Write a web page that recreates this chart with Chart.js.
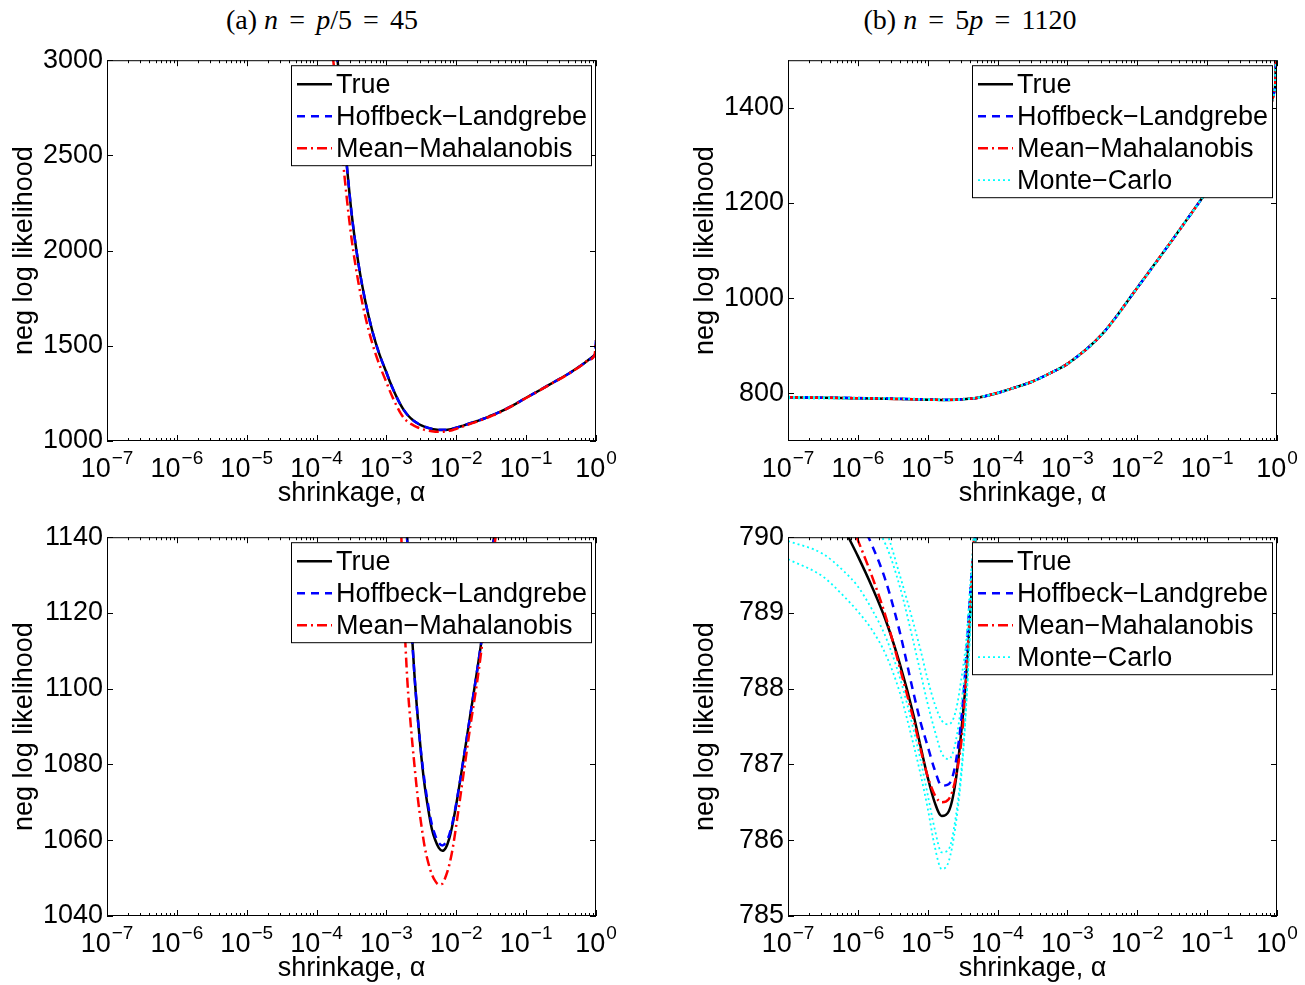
<!DOCTYPE html>
<html>
<head>
<meta charset="utf-8">
<script src="https://cdn.jsdelivr.net/npm/chart.js@4.4.1/dist/chart.umd.min.js"></script>
<style>
  body { margin: 0; background: #fff; width: 1305px; height: 985px; overflow: hidden; position: relative; }
  canvas { position: absolute; }
  .ttl { position: absolute; top: 4px; text-align: center; font: 28px "Liberation Serif", serif; line-height: 32px; color: #000; }
  .ttl .eq { margin: 0 0.4em; }
</style>
</head>
<body>
<div class="ttl" style="left:0;width:644px">(a) <i>n</i><span class="eq">=</span><i>p</i>/5<span class="eq">=</span>45</div>
<div class="ttl" style="left:681px;width:578px">(b) <i>n</i><span class="eq">=</span>5<i>p</i><span class="eq">=</span>1120</div>
<canvas id="c1" width="624" height="470" style="left:0;top:40px"></canvas>
<canvas id="c2" width="624" height="470" style="left:681px;top:40px"></canvas>
<canvas id="c3" width="624" height="468" style="left:0;top:517px"></canvas>
<canvas id="c4" width="624" height="468" style="left:681px;top:517px"></canvas>
<script>
// x values are log10(alpha)
const expA = [-3.8, -3.7, -3.6, -3.5, -3.4, -3.3, -3.2, -3.1, -3.0, -2.95, -2.9, -2.85, -2.8, -2.75, -2.7, -2.65,
  -2.6, -2.55, -2.5, -2.45, -2.4, -2.35, -2.3, -2.25, -2.2, -2.15, -2.1, -2.05, -2.0, -1.9, -1.8, -1.7, -1.6, -1.5,
  -1.4, -1.2, -1.0, -0.8, -0.6, -0.4, -0.2, -0.1, -0.02, 0];
const trueA = [3250, 3000, 2580, 2200, 1930, 1730, 1575, 1455, 1360, 1311, 1268, 1228, 1192, 1162, 1138, 1119,
  1104, 1092, 1082, 1074, 1068, 1063, 1060, 1058, 1057.2, 1058, 1060.5, 1064.5, 1069.5, 1081, 1093, 1105, 1118, 1134,
  1149, 1185, 1227, 1268, 1310, 1352, 1400, 1428, 1452, 1462];
const hlA = [3250, 3000, 2580, 2200, 1930, 1730, 1575, 1455, 1360, 1311, 1268, 1228, 1192, 1162, 1138, 1119,
  1104, 1092, 1082.5, 1075, 1069, 1064.2, 1061.2, 1059.3, 1058.6, 1059.4, 1061.5, 1065, 1069.8, 1081, 1093, 1105, 1118, 1134,
  1149, 1185, 1227, 1268, 1310, 1352, 1400, 1428, 1455, 1530];
const mmA = [3125, 2790, 2390, 2065, 1830, 1650, 1510, 1400, 1308, 1262, 1220, 1182, 1148, 1121, 1102, 1090,
  1080, 1071, 1064, 1058, 1054, 1051, 1049.2, 1048.3, 1048.5, 1050.5, 1053.5, 1058, 1064, 1077, 1090, 1102, 1116, 1131,
  1146, 1184, 1226, 1267, 1309, 1351, 1399, 1427, 1453, 1530];

const expB = [-7, -6.5, -6.2, -6.0, -5.8, -5.6, -5.4, -5.2, -5.1, -5.0, -4.9, -4.8, -4.7, -4.6, -4.5, -4.45, -4.4,
  -4.35, -4.3, -4.2, -4.0, -3.8, -3.5, -3.2, -3.0, -2.5, -2.0, -1.5, -1.0, -0.5, -0.03, 0];
const trueB = [791.7, 790.7, 790.12, 789.75, 789.35, 788.9, 788.33, 787.64, 787.23, 786.83, 786.5, 786.32, 786.38,
  786.78, 787.62, 788.15, 788.88, 789.55, 790.3, 793.5, 801, 810, 825, 846, 862, 925, 1022, 1122, 1225, 1330, 1440, 1600];
const hlB = [792.0, 791.1, 790.63, 790.28, 789.9, 789.42, 788.75, 787.93, 787.55, 787.24, 786.93, 786.72, 786.74,
  787.02, 787.78, 788.4, 789.15, 789.78, 790.3, 793.5, 801, 810, 825, 846, 862, 925, 1022, 1122, 1225, 1330, 1440, 1600];
const mmB = [791.9, 790.95, 790.4, 789.96, 789.49, 788.95, 788.28, 787.58, 787.19, 786.84, 786.6, 786.5, 786.54,
  786.82, 787.47, 788.15, 788.95, 789.8, 790.5, 793.5, 801, 810, 825, 846, 862, 925, 1022, 1122, 1225, 1330, 1440, 1600];
const mc1B = [789.71, 789.48, 789.22, 789.02, 788.78, 788.45, 787.95, 787.25, 786.86, 786.42, 785.92, 785.62, 785.72,
  786.2, 787.05, 787.75, 788.6, 789.5, 790.3, 793.5, 801, 810, 825, 846, 862, 925, 1022, 1122, 1225, 1330, 1440, 1600];
const mc2B = [789.95, 789.78, 789.55, 789.35, 789.05, 788.68, 788.15, 787.45, 787.05, 786.6, 786.15, 785.84, 785.88,
  786.3, 787.12, 787.8, 788.65, 789.52, 790.3, 793.5, 801, 810, 825, 846, 862, 925, 1022, 1122, 1225, 1330, 1440, 1600];
const mc3B = [792.6, 791.6, 790.9, 790.5, 790.2, 789.9, 789.35, 788.6, 788.2, 787.8, 787.45, 787.15, 787.07,
  787.3, 787.95, 788.45, 789.1, 789.8, 790.4, 793.5, 801, 810, 825, 846, 862, 925, 1022, 1122, 1225, 1330, 1440, 1600];
const mc4B = [793.0, 792.0, 791.3, 790.8, 790.45, 790.1, 789.5, 788.85, 788.5, 788.12, 787.8, 787.58, 787.53,
  787.7, 788.25, 788.62, 789.25, 789.9, 790.5, 793.5, 801, 810, 825, 846, 862, 925, 1022, 1122, 1225, 1330, 1440, 1600];

const xTickExps = [-7, -6, -5, -4, -3, -2, -1, 0];
const yTicksTL = [1000, 1500, 2000, 2500, 3000];
const yTicksTR = [800, 1000, 1200, 1400];
const yTicksBL = [1040, 1060, 1080, 1100, 1120, 1140];
const yTicksBR = [785, 786, 787, 788, 789, 790];

Chart.defaults.font.family = '"Liberation Sans", Arial, sans-serif';
Chart.defaults.font.size = 27;
Chart.defaults.color = '#000';

const styles = {
  tru: { label: 'True', borderColor: '#000000', borderWidth: 2.5, borderDash: [], order: 4 },
  hl: { label: 'Hoffbeck\u2212Landgrebe', borderColor: '#0000ff', borderWidth: 2.5, borderDash: [8, 6], order: 3 },
  mm: { label: 'Mean\u2212Mahalanobis', borderColor: '#ff0000', borderWidth: 2.5, borderDash: [10, 4, 2, 4], order: 2 },
  mc: { label: 'Monte\u2212Carlo', borderColor: '#00ffff', borderWidth: 1.8, borderDash: [2, 3], order: 1 }
};

function series(style, exps, vals) {
  return Object.assign({}, style, {
    data: exps.map((e, i) => ({ x: Math.pow(10, e), y: vals[i] })),
    pointRadius: 0,
    fill: false,
    cubicInterpolationMode: 'monotone',
    clip: 0
  });
}

// matlab-like box, inward ticks, 10^k labels and legend
const matlabAxes = {
  id: 'matlabAxes',
  afterDraw(chart) {
    const { ctx, chartArea: a, scales: { x, y } } = chart;
    ctx.save();
    ctx.strokeStyle = '#000';
    ctx.lineWidth = 1;
    ctx.setLineDash([]);
    ctx.beginPath();
    xTickExps.forEach(e => {
      const px = Math.round(x.getPixelForValue(Math.pow(10, e))) + 0.5;
      ctx.moveTo(px, a.bottom); ctx.lineTo(px, a.bottom - 6);
      ctx.moveTo(px, a.top); ctx.lineTo(px, a.top + 6);
      if (e < 0) {
        for (let m = 2; m < 10; m++) {
          const mx = Math.round(x.getPixelForValue(m * Math.pow(10, e))) + 0.5;
          ctx.moveTo(mx, a.bottom); ctx.lineTo(mx, a.bottom - 3);
          ctx.moveTo(mx, a.top); ctx.lineTo(mx, a.top + 3);
        }
      }
    });
    y.ticks.forEach(t => {
      const py = Math.round(y.getPixelForValue(t.value)) + 0.5;
      ctx.moveTo(a.left, py); ctx.lineTo(a.left + 6, py);
      ctx.moveTo(a.right, py); ctx.lineTo(a.right - 6, py);
    });
    ctx.stroke();
    ctx.strokeRect(a.left + 0.5, a.top + 0.5, a.right - a.left - 1, a.bottom - a.top - 1);

    // x tick labels
    ctx.fillStyle = '#000';
    ctx.textAlign = 'left';
    ctx.textBaseline = 'alphabetic';
    const big = '27px "Liberation Sans", Arial, sans-serif';
    const small = '19px "Liberation Sans", Arial, sans-serif';
    xTickExps.forEach(e => {
      const px = x.getPixelForValue(Math.pow(10, e));
      const sup = e === 0 ? '0' : '\u2212' + Math.abs(e);
      ctx.font = big; const wb = ctx.measureText('10').width;
      ctx.font = small; const ws = ctx.measureText(sup).width;
      const start = px - (wb + ws + 1) / 2;
      ctx.font = big; ctx.fillText('10', start, a.bottom + 36);
      ctx.font = small; ctx.fillText(sup, start + wb + 1, a.bottom + 23);
    });

    // legend
    const seen = [];
    const items = chart.data.datasets.filter(d => {
      if (seen.includes(d.label)) return false;
      seen.push(d.label); return true;
    });
    const w = 300, h = items.length * 32 + 4;
    const left = a.right - 5 - w, top = a.top + 5;
    ctx.fillStyle = '#fff';
    ctx.fillRect(left, top, w, h);
    ctx.strokeRect(left + 0.5, top + 0.5, w, h);
    ctx.font = big;
    ctx.textBaseline = 'middle';
    items.forEach((d, i) => {
      const yy = top + 19 + i * 32;
      ctx.strokeStyle = d.borderColor;
      ctx.lineWidth = d.borderWidth;
      ctx.setLineDash(d.borderDash);
      ctx.beginPath(); ctx.moveTo(left + 6, yy); ctx.lineTo(left + 41, yy); ctx.stroke();
      ctx.setLineDash([]);
      ctx.fillStyle = '#000';
      ctx.fillText(d.label, left + 45, yy + 1);
    });
    ctx.restore();
  }
};

function makeChart(id, datasets, yMin, yMax, yTicks) {
  return new Chart(document.getElementById(id), {
    type: 'line',
    data: { datasets },
    options: {
      responsive: false,
      animation: false,
      events: [],
      layout: { padding: { top: 18, right: 28, left: 0, bottom: 0 } },
      plugins: { legend: { display: false }, tooltip: { enabled: false } },
      scales: {
        x: {
          type: 'logarithmic', min: 1e-7, max: 1,
          afterFit: s => { s.height = 69; },
          grid: { display: false, drawTicks: false },
          border: { display: false },
          ticks: { display: false },
          title: { display: true, text: 'shrinkage, \u03b1', color: '#000', padding: { top: 0, bottom: 0 } }
        },
        y: {
          min: yMin, max: yMax,
          afterBuildTicks: s => { s.ticks = yTicks.map(v => ({ value: v })); },
          afterFit: s => { s.width = 107; },
          grid: { display: false, drawTicks: false },
          border: { display: false },
          ticks: { color: '#000', padding: 4, callback: v => String(v) },
          title: { display: true, text: 'neg log likelihood', color: '#000', padding: { top: 8, bottom: 0 } }
        }
      }
    },
    plugins: [matlabAxes]
  });
}

const left = () => [
  series(styles.tru, expA, trueA),
  series(styles.hl, expA, hlA),
  series(styles.mm, expA, mmA)
];
const right = () => [
  series(styles.tru, expB, trueB),
  series(styles.hl, expB, hlB),
  series(styles.mm, expB, mmB),
  series(styles.mc, expB, mc1B),
  series(styles.mc, expB, mc2B),
  series(styles.mc, expB, mc3B),
  series(styles.mc, expB, mc4B)
];

makeChart('c1', left(), 1000, 3000, yTicksTL);
makeChart('c2', right(), 700, 1500, yTicksTR);
makeChart('c3', left(), 1040, 1140, yTicksBL);
makeChart('c4', right(), 785, 790, yTicksBR);
</script>
</body>
</html>
